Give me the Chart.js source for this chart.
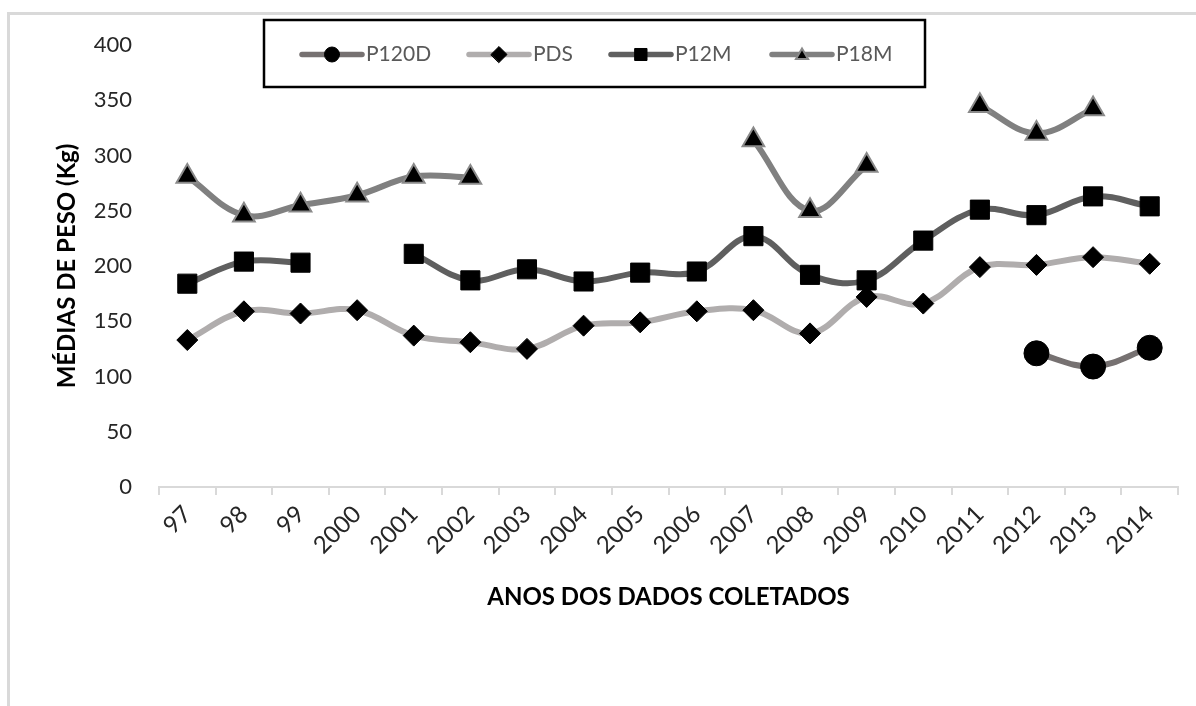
<!DOCTYPE html>
<html>
<head>
<meta charset="utf-8">
<script src="https://cdn.jsdelivr.net/npm/chart.js@4.4.1/dist/chart.umd.min.js"></script>
<style>
  html, body { margin: 0; padding: 0; background: #ffffff; }
  #wrap { position: relative; width: 1196px; height: 706px; }
  canvas { display: block; }
</style>
</head>
<body>
<div id="wrap"><canvas id="chart" width="1196" height="706"></canvas></div>
<script>
// Anos (categorias do eixo X)
const anos = ['97', '98', '99', '2000', '2001', '2002', '2003', '2004', '2005',
  '2006', '2007', '2008', '2009', '2010', '2011', '2012', '2013', '2014'];

// Médias de peso (kg) por categoria; null = ano sem coleta
const p120d = [null, null, null, null, null, null, null, null, null,
  null, null, null, null, null, null, 121, 109, 126];
const pds = [133, 159, 157, 160, 137, 131, 125, 146, 149,
  159, 160, 139, 172, 166, 199, 201, 208, 202];
const p12m = [184, 204, 203, null, 211, 187, 197, 186, 194,
  195, 227, 192, 187, 223, 251, 246, 263, 254];
const p18m = [281, 246, 255, 264, 281, 280, null, null, null,
  null, 314, 250, 291, null, 345, 320, 342, null];

// Eixo Y
const yTicks = [0, 50, 100, 150, 200, 250, 300, 350, 400];

const FONT = 'Lato, "Open Sans", sans-serif';

const series = [
  { label: 'P120D', data: p120d, line: '#767171', style: 'circle', r: 12.5, lr: 7.5, pborder: '#000000' },
  { label: 'PDS',   data: pds,   line: '#b0adad', style: 'rectRot', r: 10.5, lr: 8, pborder: '#000000' },
  { label: 'P12M',  data: p12m,  line: '#5f5f5f', style: 'rect', r: 13.5, lr: 8.5, pborder: '#000000' },
  { label: 'P18M',  data: p18m,  line: '#808080', style: 'triangle', r: 12.5, lr: 7, pborder: '#8a8a8a' }
];

// Moldura cinza (bordas esquerda e superior da área do gráfico)
const framePlugin = {
  id: 'frame',
  beforeDraw(chart) {
    const ctx = chart.ctx;
    ctx.save();
    ctx.fillStyle = '#d9d9d9';
    ctx.fillRect(7, 12, 3, chart.height - 12);
    ctx.fillRect(7, 12, chart.width - 7, 3);
    ctx.restore();
  }
};

// Legenda em caixa com traço + marcador de cada série
const boxLegend = {
  id: 'boxLegend',
  afterDraw(chart) {
    const ctx = chart.ctx;
    const box = { x: 264, y: 20, w: 661, h: 67 };
    const cy = box.y + box.h / 2 + 1;
    const starts = [302, 469, 611, 772];
    const lineLen = 60;
    ctx.save();
    ctx.fillStyle = '#ffffff';
    ctx.fillRect(box.x, box.y, box.w, box.h);
    ctx.strokeStyle = '#000000';
    ctx.lineWidth = 2.5;
    ctx.strokeRect(box.x, box.y, box.w, box.h);
    chart.data.datasets.forEach((ds, i) => {
      const x0 = starts[i];
      ctx.beginPath();
      ctx.lineCap = 'round';
      ctx.strokeStyle = ds.borderColor;
      ctx.lineWidth = 5.5;
      ctx.moveTo(x0, cy);
      ctx.lineTo(x0 + lineLen, cy);
      ctx.stroke();
      ctx.fillStyle = '#000000';
      ctx.strokeStyle = ds.pointBorderColor;
      ctx.lineWidth = ds.pointBorderWidth;
      Chart.helpers.drawPoint(ctx, {
        pointStyle: ds.pointStyle,
        radius: series[i].lr,
        rotation: 0,
        borderWidth: ds.pointBorderWidth
      }, x0 + lineLen / 2, ds.pointStyle === 'triangle' ? cy + 1 : cy);
      ctx.fillStyle = '#595959';
      ctx.font = '21px ' + FONT;
      ctx.textBaseline = 'middle';
      ctx.textAlign = 'left';
      ctx.fillText(ds.label, x0 + lineLen + 4, cy);
    });
    ctx.restore();
  }
};

const chart = new Chart(document.getElementById('chart'), {
  type: 'line',
  data: {
    labels: anos,
    datasets: series.map(s => ({
      label: s.label,
      data: s.data,
      borderColor: s.line,
      borderWidth: 6,
      tension: 0.38,
      spanGaps: false,
      pointStyle: s.style,
      pointRadius: s.r,
      pointHoverRadius: s.r,
      pointBackgroundColor: '#000000',
      pointBorderColor: s.pborder,
      pointBorderWidth: s.style === 'triangle' ? 2 : 1
    }))
  },
  options: {
    responsive: false,
    animation: false,
    devicePixelRatio: 1,
    layout: { padding: { top: 45, right: 18, bottom: 0, left: 0 } },
    plugins: {
      legend: { display: false },
      tooltip: { enabled: false }
    },
    scales: {
      x: {
        offset: true,
        afterFit(scale) { scale.height = 219; },
        grid: {
          offset: true,
          drawOnChartArea: false,
          drawTicks: true,
          tickLength: 8,
          color: '#d9d9d9',
          lineWidth: 2
        },
        border: { display: true, color: '#d9d9d9', width: 2 },
        ticks: {
          autoSkip: false,
          maxRotation: 45,
          minRotation: 45,
          padding: 5,
          color: '#262626',
          font: { family: FONT, size: 24 }
        },
        title: {
          display: true,
          text: 'ANOS DOS DADOS COLETADOS',
          color: '#000000',
          font: { family: FONT, size: 24, weight: 'bold' },
          padding: { top: 0, bottom: 94 }
        }
      },
      y: {
        min: 0,
        max: 400,
        afterFit(scale) { scale.width = 159; },
        afterBuildTicks(scale) { scale.ticks = yTicks.map(v => ({ value: v })); },
        grid: { display: false, drawTicks: false },
        border: { display: false },
        ticks: {
          padding: 27,
          color: '#262626',
          font: { family: FONT, size: 22 }
        },
        title: {
          display: true,
          text: 'MÉDIAS DE PESO (Kg)',
          color: '#000000',
          font: { family: FONT, size: 24, weight: 'bold' },
          padding: { top: 53, bottom: 0 }
        }
      }
    }
  },
  plugins: [framePlugin, boxLegend]
});
</script>
</body>
</html>
